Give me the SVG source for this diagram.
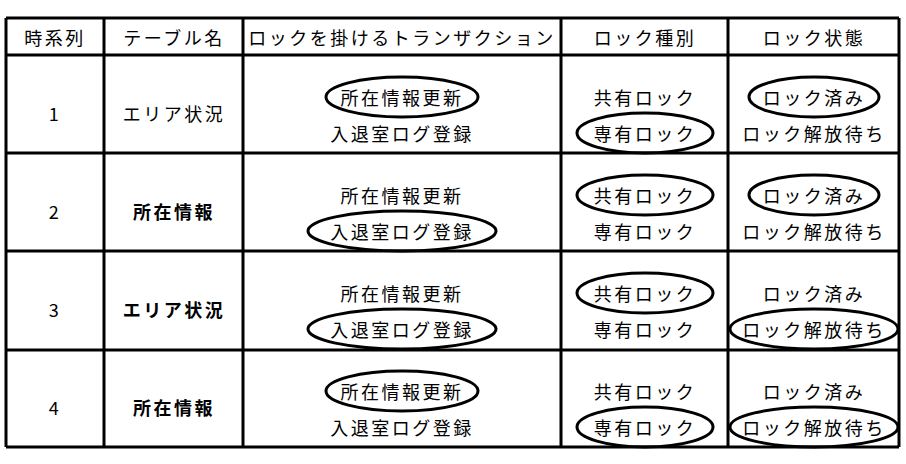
<svg xmlns="http://www.w3.org/2000/svg" width="906" height="464" viewBox="0 0 906 464">
<style>
text{font-family:"Noto Sans CJK JP","Noto Sans",sans-serif;font-size:18px;text-anchor:middle;dominant-baseline:central;fill:#000;letter-spacing:2.5px}
.b{font-weight:bold}
.g line{stroke:#000;stroke-width:3}
ellipse{fill:none;stroke:#000;stroke-width:3}
</style>
<rect width="906" height="464" fill="#fff"/>
<g class="g" id="grid">
<line x1="6" y1="18" x2="899" y2="18"/><line x1="6" y1="55" x2="899" y2="55"/>
<line x1="6" y1="153" x2="899" y2="153"/><line x1="6" y1="251" x2="899" y2="251"/>
<line x1="6" y1="350" x2="899" y2="350"/><line x1="6" y1="447" x2="899" y2="447"/>
<line x1="6" y1="18" x2="6" y2="447"/><line x1="104" y1="18" x2="104" y2="447"/>
<line x1="243" y1="18" x2="243" y2="447"/><line x1="561" y1="18" x2="561" y2="447"/>
<line x1="728" y1="18" x2="728" y2="447"/><line x1="899" y1="18" x2="899" y2="447"/>
</g>
<g id="header">
<text x="55" y="37">時系列</text><text x="174" y="37">テーブル名</text><text x="402" y="37">ロックを掛けるトランザクション</text><text x="645" y="37">ロック種別</text><text x="814" y="37">ロック状態</text>
</g>
<g id="row1">
<text x="55" y="113">1</text><text x="174" y="113">エリア状況</text>
<text x="402" y="97">所在情報更新</text><text x="402" y="133">入退室ログ登録</text>
<text x="645" y="97">共有ロック</text><text x="645" y="133">専有ロック</text>
<text x="814" y="97">ロック済み</text><text x="814" y="133">ロック解放待ち</text>
<ellipse cx="402" cy="97" rx="76" ry="20"/><ellipse cx="645" cy="133" rx="68" ry="20"/><ellipse cx="814" cy="97" rx="65" ry="20"/>
</g>
<g id="row2">
<text x="55" y="211">2</text><text class="b" x="174" y="211">所在情報</text>
<text x="402" y="195">所在情報更新</text><text x="402" y="231">入退室ログ登録</text>
<text x="645" y="195">共有ロック</text><text x="645" y="231">専有ロック</text>
<text x="814" y="195">ロック済み</text><text x="814" y="231">ロック解放待ち</text>
<ellipse cx="402" cy="231" rx="94" ry="20"/><ellipse cx="645" cy="195" rx="68" ry="20"/><ellipse cx="814" cy="195" rx="65" ry="20"/>
</g>
<g id="row3">
<text x="55" y="309">3</text><text class="b" x="174" y="309">エリア状況</text>
<text x="402" y="293">所在情報更新</text><text x="402" y="329">入退室ログ登録</text>
<text x="645" y="293">共有ロック</text><text x="645" y="329">専有ロック</text>
<text x="814" y="293">ロック済み</text><text x="814" y="329">ロック解放待ち</text>
<ellipse cx="402" cy="329" rx="94" ry="20"/><ellipse cx="645" cy="293" rx="68" ry="20"/><ellipse cx="814" cy="329" rx="84" ry="20"/>
</g>
<g id="row4">
<text x="55" y="407">4</text><text class="b" x="174" y="407">所在情報</text>
<text x="402" y="391">所在情報更新</text><text x="402" y="427">入退室ログ登録</text>
<text x="645" y="391">共有ロック</text><text x="645" y="427">専有ロック</text>
<text x="814" y="391">ロック済み</text><text x="814" y="427">ロック解放待ち</text>
<ellipse cx="402" cy="391" rx="76" ry="20"/><ellipse cx="645" cy="427" rx="68" ry="20"/><ellipse cx="814" cy="427" rx="84" ry="20"/>
</g>
</svg>
